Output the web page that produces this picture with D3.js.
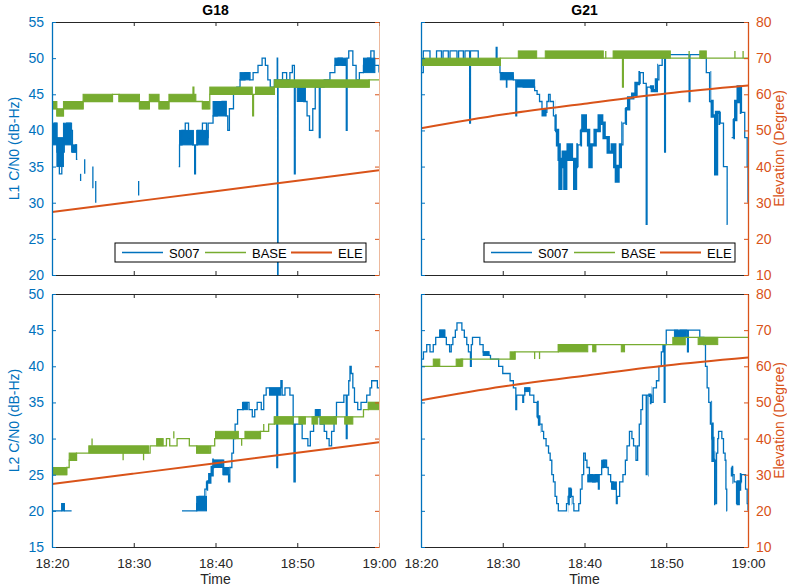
<!DOCTYPE html>
<html>
<head>
<meta charset="utf-8">
<script src="https://cdn.jsdelivr.net/npm/d3@7"></script>
<style>
  body { margin: 0; background: #fff; }
  text { font-family: "Liberation Sans", Arial, sans-serif; }
</style>
</head>
<body>
<svg id="chart" width="787" height="588"></svg>
<script>
// time is minutes after 18:20
const timeTicks = ["18:20", "18:30", "18:40", "18:50", "19:00"];
const l1Ticks = [20, 25, 30, 35, 40, 45, 50, 55];
const l2Ticks = [15, 20, 25, 30, 35, 40, 45, 50];
const eleTicks = [10, 20, 30, 40, 50, 60, 70, 80];
const seriesNames = ["S007", "BASE", "ELE"];
const titles = ["G18", "G21"];

const g18Elevation = [[0, 27.4], [10, 30.3], [20, 33.2], [30, 36.1], [40, 39.0]];
const g21Elevation = [[0, 50.6], [10, 54.4], [20, 57.4], [30, 60.2], [40, 62.4]];

// ---- G18 L1 ----
const g18L1S007 = [
  [0, 39], [0.3, 41], [0.6, 37], [0.9, 34], [1.2, 37], [1.5, 40], [1.8, 41], [2.3, 40], [2.5, 37], [2.9, 38], [3.0, 36], [3.1, 36], [3.15, null],
  [15.5, 35], [15.6, 38], [15.9, 40], [16.3, 41], [16.7, 39], [17.2, 38], [17.45, 34], [17.55, 38], [17.8, 40], [18.4, 41], [18.9, 39],
  [19.1, 41], [19.7, 42], [20.2, 43], [20.8, 44], [21.3, 42], [21.5, 40], [21.7, 43], [22.2, 45], [22.6, 46], [23, 47], [23.6, 48],
  [24.2, 47], [24.6, 48], [25.2, 49], [25.7, 50], [26.1, 49], [26.4, 47], [26.7, 46], [27.2, 47], [27.55, 50], [27.6, 20], [27.65, 47],
  [28.2, 48], [28.7, 47], [29.1, 48], [29.4, 49], [29.65, 34], [29.75, 46], [30.2, 45], [30.8, 44], [31.2, 42], [31.5, 40], [31.9, 43],
  [32.2, 46], [32.7, 39], [32.8, 46], [33.3, 47], [34, 48], [34.6, 49], [35, 50], [35.5, 49], [36, 40], [36.1, 50], [36.3, 51],
  [36.8, 49], [37.2, 47], [37.6, 48], [38.1, 49], [38.6, 50], [39, 51], [39.4, 49], [40, 48]
];
const g18L1S007Bands = [
  [0, 0.6, 38, 41], [0.6, 1.4, 35, 39], [1.4, 2.4, 38, 41], [2.4, 3.0, 37, 38], [15.6, 17.3, 38, 40], [17.7, 19.1, 38, 40],
  [19.7, 21.3, 42, 44], [23, 24.2, 47, 48], [28, 29, 46, 47], [30, 31, 44, 46], [34.6, 36, 49, 50], [38.1, 39.5, 48, 50]
];
const g18L1S007Dashes = [[3.5, 33, 34], [4.0, 34, 36], [5.0, 32, 35], [5.35, 30, 33], [10.6, 31, 33]];
const g18L1Base = [
  [0, 43], [0.6, 42], [1.4, 43], [3.8, 44], [7.4, 45], [8.2, 44], [10.7, 43], [11.9, 44], [13.1, 43], [14.3, 44],
  [17.25, 46], [17.35, 44], [18.4, 43], [19.3, 45], [24.55, 42], [24.65, 45], [27.2, 46], [38.8, 47], [40, 47]
];
const g18L1BaseBands = [
  [0, 0.6, 43, 44], [0.6, 1.4, 42, 43], [1.4, 3.8, 43, 44], [3.8, 7.4, 44, 45], [8.2, 10.7, 44, 45], [10.7, 11.9, 43, 44],
  [11.9, 13.1, 44, 45], [13.1, 14.3, 43, 44], [14.3, 17.6, 44, 45], [18.4, 19.2, 43, 44], [19.3, 24.5, 45, 46],
  [24.9, 27.1, 45, 46], [27.2, 38.8, 46, 47]
];

// ---- G21 L1 (read on the 10-80 scale) ----
const g21L1S007 = [
  [0, 66], [0.28, 72], [1.1, 69], [1.9, 72], [2.5, 69], [2.7, 72], [3.34, 69], [3.55, 72], [4.4, 69], [4.6, 72], [5.18, 69],
  [5.38, 72], [5.95, 52], [6.05, 72], [7.0, 69], [7.6, 68], [7.7, 69], [9.2, 73], [9.3, 69], [9.66, 66], [10.0, 65], [10.45, 62],
  [10.5, 65], [11.3, 64], [11.6, 54], [11.7, 63], [12.5, 62], [13.9, 61], [14.2, 60], [14.5, 58], [14.8, 56], [15.0, 55],
  [15.4, 58], [15.6, 60], [15.8, 58], [16.2, 54], [16.4, 50], [16.7, 46], [16.9, 42], [17.0, 34], [17.1, 40], [17.4, 44],
  [17.6, 34], [17.7, 42], [18.0, 46], [18.4, 42], [18.8, 34], [18.9, 40], [19.2, 46], [19.5, 50], [19.8, 54], [20.1, 50],
  [20.5, 46], [20.67, 40], [20.8, 46], [21.3, 50], [21.8, 54], [22.1, 52], [22.4, 48], [22.9, 44], [23.4, 46], [23.7, 40],
  [23.9, 36], [24.1, 40], [24.4, 46], [24.7, 52], [25.0, 56], [25.4, 59], [25.9, 60], [26.3, 63], [26.8, 66], [27.2, 63],
  [27.55, 24], [27.65, 62], [28.3, 61], [28.8, 64], [29.1, 68], [29.5, 70], [29.8, 44], [29.9, 71], [32.8, 58], [32.9, 71],
  [34.3, 70], [34.9, 66], [35.3, 58], [35.6, 54], [36.05, 38], [36.15, 55], [36.6, 52], [37.0, 40], [37.45, 24], [37.5, 24], [37.55, null],
  [38.0, 48], [38.2, 53], [38.5, 58], [38.8, 62], [39.2, 55], [39.6, 48], [39.9, 40], [40, 30]
];
const g21L1S007Bands = [[7.2, 9.2, 68, 69], [9.7, 11.3, 64, 66], [11.7, 13.9, 62, 64], [14.8, 15.3, 54, 56]];
const g21L1S007Thick = [[16.4, 19.2], [19.5, 24.6], [25, 26.8], [28, 29], [35.4, 36.6], [38.2, 39.2]];
const g21L1Base = [[0, 68], [9.7, 70], [24.65, 62], [24.75, 70], [40, 70]];
const g21L1BaseBands = [[0, 9.7, 68, 70], [11.9, 14.15, 70, 72], [15.2, 22.3, 70, 72], [23.5, 30.5, 70, 72], [34.1, 34.9, 70, 72]];
const g21L1BaseDashes = [[22.6, 70, 72], [32.8, 70, 72], [38.4, 70, 72], [39.4, 70, 72]];

// ---- G18 L2 ----
const g18L2S007 = [
  [0, 20], [1.2, 21], [1.5, 20], [2.4, 20], [2.45, null],
  [15.9, 20], [17.7, 21], [18.0, 22], [18.7, 23], [18.9, 24], [19.3, 25], [19.6, 26], [19.8, 27], [21.0, 25], [21.6, 24],
  [21.75, 26], [22.0, 28], [22.2, 30], [22.4, 32], [22.7, 34], [23.4, 35], [24.1, 34], [24.5, 33], [24.8, 34], [25.1, 35],
  [25.6, 34], [25.9, 36], [26.2, 37], [27.5, 26], [27.6, 37], [28.0, 38], [28.15, 36], [28.5, 37], [29.1, 36], [29.5, 32],
  [29.6, 24], [29.75, 32], [30.6, 30], [31.3, 29], [31.6, 31], [32.0, 33], [32.3, 34], [32.8, 32], [33.3, 31], [33.6, 30],
  [33.9, 29], [34.2, 31], [34.5, 33], [34.8, 35], [35.7, 36], [36.0, 30], [36.1, 36], [36.3, 38], [36.45, 40], [36.6, 39],
  [36.8, 37], [37.0, 35], [37.4, 34], [37.8, 35], [38.5, 36], [38.9, 37], [39.1, 38], [39.8, 37], [40, 37]
];
const g18L2S007Bands = [
  [1.2, 1.5, 20, 21], [17.7, 18.9, 20, 22], [19.8, 20.9, 26, 27], [20.9, 21.6, 25, 26], [23.3, 23.9, 34, 35],
  [26.6, 28, 36, 37], [32.2, 32.7, 33, 34]
];
const g18L2Base = [
  [0, 25], [1.8, 26], [2.1, 27], [3.0, 28], [11.8, 28], [12.0, 29], [14.0, 30], [14.4, 29], [15.3, 30], [16.8, 29],
  [17.7, 28], [19.4, 29], [19.9, 30], [25.5, 31], [26.5, 32], [27.2, 33], [38.1, 34], [38.7, 35], [40, 35]
];
const g18L2BaseBands = [
  [0, 1.8, 25, 26], [2.1, 3.0, 27, 28], [4.5, 11.8, 28, 29], [12.8, 13.6, 29, 30], [17.7, 19.3, 28, 29], [20.0, 22.8, 30, 31],
  [23.6, 25.5, 30, 31], [27.2, 29.5, 32, 33], [30.2, 31, 32, 33], [31.8, 32.5, 32, 33], [32.8, 34.8, 32, 33],
  [35.8, 36.8, 32, 33], [38.7, 40, 34, 35]
];
const g18L2BaseDashes = [[4.9, 29, 30], [8.7, 27, 28], [11.2, 27, 28], [14.9, 30, 31], [23.2, 29, 30], [25.9, 31, 32]];

// ---- G21 L2 (read on the 10-80 scale) ----
const g21L2S007 = [
  [0, 62], [0.3, 64], [0.7, 66], [1.1, 64], [1.5, 66], [1.8, 68], [2.3, 70], [2.9, 68], [3.1, 66], [3.5, 64], [3.7, 66],
  [3.9, 68], [4.2, 70], [4.4, 72], [5.0, 70], [5.3, 68], [5.6, 66], [5.8, 64], [6.05, 60], [6.15, 66], [6.3, 68], [7.2, 66],
  [7.6, 64], [8.3, 63], [8.5, 62], [9.5, 60], [10.0, 58], [10.9, 56], [11.3, 54], [11.6, 48], [11.7, 52], [12.45, 50],
  [12.55, 52], [12.7, 54], [13.3, 52], [13.8, 50], [14.2, 46], [14.5, 44], [14.8, 42], [15.0, 40], [15.3, 38], [15.6, 36],
  [15.8, 34], [16.0, 30], [16.2, 28], [16.4, 24], [16.6, 22], [16.8, 20], [17.8, 22], [18.0, 24], [18.2, 26], [18.4, 24],
  [18.6, 22], [18.7, 20], [19.3, 22], [19.5, 26], [19.7, 30], [19.9, 36], [20.1, 34], [20.3, 32], [20.6, 30], [21.0, 28],
  [21.3, 30], [21.7, 26], [21.8, 30], [22.1, 32], [22.3, 34], [22.7, 32], [22.9, 30], [23.2, 28], [23.5, 26], [23.9, 22],
  [24.0, 24], [24.3, 28], [24.7, 30], [25.0, 34], [25.2, 38], [25.5, 42], [25.8, 40], [26.0, 38], [26.3, 34], [26.5, 38],
  [26.7, 44], [26.9, 48], [27.1, 52], [27.55, 30], [27.65, 52], [28.2, 50], [28.4, 54], [28.8, 56], [29.1, 60], [29.4, 64],
  [29.6, 66], [29.75, 50], [29.85, 66], [30.0, 70], [31.4, 68], [31.7, 70], [32.6, 64], [32.7, 70], [34.1, 68], [34.6, 66],
  [34.8, 60], [35.0, 54], [35.2, 50], [35.4, 44], [35.6, 40], [35.7, 34], [36.05, 22], [36.15, 36], [36.3, 40], [36.4, 42],
  [36.8, 40], [37.0, 36], [37.2, 34], [37.3, 26], [37.4, 20], [37.45, 20], [37.5, null],
  [38.0, 32], [38.1, 30], [38.3, 28], [38.6, 22], [38.8, 26], [39.0, 28], [39.2, 30], [39.5, 30], [39.7, 26], [39.9, 22], [40, 20]
];
const g21L2S007Bands = [[2.3, 2.9, 68, 70], [7.6, 8.3, 63, 64], [12.7, 13.3, 53, 54], [20.4, 21.7, 28, 30], [22.1, 22.6, 32, 34], [23.3, 23.9, 26, 28], [31, 32.5, 68, 70]];
const g21L2S007Thick = [[14.2, 14.6], [18, 18.4], [27.8, 28.2], [35.5, 36], [37.8, 38.2], [38.6, 39.2]];
const g21L2Base = [[0, 60], [4.9, 62], [11.5, 64], [16.8, 66], [32.3, 68], [40, 68]];
const g21L2BaseBands = [
  [1.5, 2.3, 60, 62], [4.3, 5.1, 60, 62], [10.9, 11.5, 62, 64], [16.8, 20.4, 64, 66], [21.0, 21.4, 64, 66],
  [24.5, 24.9, 64, 66], [30.8, 32.3, 66, 68], [33.9, 36.3, 66, 68]
];
const g21L2BaseDashes = [[13.9, 62, 64], [14.5, 62, 64]];

const blue = "#0072BD", green = "#77AC30", orange = "#D95319", axisGray = "#262626";
const W = 327, H = 253;
const startTime = new Date(2020, 0, 1, 18, 20);
const toTime = m => new Date(startTime.getTime() + m * 60000);
const parseTick = d3.timeParse("%H:%M");
const tickDates = timeTicks.map(s => { const d = parseTick(s); return new Date(2020, 0, 1, d.getHours(), d.getMinutes()); });

const panels = [
  { left: 52, top: 22, col: 0, row: 0, ticks: l1Ticks, s007: g18L1S007, s007Bands: g18L1S007Bands, s007Thick: [], s007Dashes: g18L1S007Dashes,
    base: g18L1Base, baseBands: g18L1BaseBands, baseDashes: [], ele: g18Elevation, yLabel: "L1 C/N0 (dB-Hz)" },
  { left: 421, top: 22, col: 1, row: 0, ticks: eleTicks, s007: g21L1S007, s007Bands: g21L1S007Bands, s007Thick: g21L1S007Thick, s007Dashes: [],
    base: g21L1Base, baseBands: g21L1BaseBands, baseDashes: g21L1BaseDashes, ele: g21Elevation },
  { left: 52, top: 294, col: 0, row: 1, ticks: l2Ticks, s007: g18L2S007, s007Bands: g18L2S007Bands, s007Thick: [[18.9, 19.8]], s007Dashes: [],
    base: g18L2Base, baseBands: g18L2BaseBands, baseDashes: g18L2BaseDashes, ele: g18Elevation, yLabel: "L2 C/N0 (dB-Hz)" },
  { left: 421, top: 294, col: 1, row: 1, ticks: eleTicks, s007: g21L2S007, s007Bands: g21L2S007Bands, s007Thick: g21L2S007Thick, s007Dashes: [],
    base: g21L2Base, baseBands: g21L2BaseBands, baseDashes: g21L2BaseDashes, ele: g21Elevation }
];

const svg = d3.select("#chart");

function drawPanel(p, i) {
  const g = svg.append("g").attr("transform", `translate(${p.left},${p.top})`);
  const x = d3.scaleTime().domain([toTime(0), toTime(40)]).range([0, W]);
  const yC = d3.scaleLinear().domain(d3.extent(p.ticks)).range([H, 0]);
  const yE = d3.scaleLinear().domain(d3.extent(eleTicks)).range([H, 0]);
  const xm = m => x(toTime(m));

  g.append("clipPath").attr("id", "clip" + i)
    .append("rect").attr("width", W).attr("height", H);
  const plot = g.append("g").attr("clip-path", `url(#clip${i})`);

  const stepLine = d3.line()
    .defined(d => d[1] !== null)
    .x(d => xm(d[0]))
    .y(d => yC(d[1]))
    .curve(d3.curveStepAfter);

  function drawBands(data, color) {
    plot.append("g").selectAll("rect").data(data).join("rect")
      .attr("x", d => xm(d[0]))
      .attr("width", d => xm(d[1]) - xm(d[0]))
      .attr("y", d => yC(d[3]))
      .attr("height", d => yC(d[2]) - yC(d[3]))
      .attr("fill", color)
      .attr("stroke", color)
      .attr("stroke-width", 1);
  }
  function drawDashes(data, color) {
    plot.append("g").selectAll("line").data(data).join("line")
      .attr("x1", d => xm(d[0])).attr("x2", d => xm(d[0]))
      .attr("y1", d => yC(d[1])).attr("y2", d => yC(d[2]))
      .attr("stroke", color).attr("stroke-width", 1.3);
  }

  // S007
  drawBands(p.s007Bands, blue);
  plot.append("path").datum(p.s007)
    .attr("fill", "none").attr("stroke", blue).attr("stroke-width", 1.3)
    .attr("d", stepLine);
  if (p.s007Thick.length) {
    const thickClip = g.append("clipPath").attr("id", "thick" + i);
    thickClip.selectAll("rect").data(p.s007Thick).join("rect")
      .attr("x", d => xm(d[0])).attr("width", d => xm(d[1]) - xm(d[0]))
      .attr("y", 0).attr("height", H);
    plot.append("g").attr("clip-path", `url(#thick${i})`)
      .append("path").datum(p.s007)
      .attr("fill", "none").attr("stroke", blue).attr("stroke-width", 3.4)
      .attr("d", stepLine);
  }
  drawDashes(p.s007Dashes, blue);

  // BASE
  drawBands(p.baseBands, green);
  plot.append("path").datum(p.base)
    .attr("fill", "none").attr("stroke", green).attr("stroke-width", 1.3)
    .attr("d", stepLine);
  drawDashes(p.baseDashes, green);

  // ELE
  plot.append("path").datum(p.ele)
    .attr("fill", "none").attr("stroke", orange).attr("stroke-width", 2)
    .attr("d", d3.line().x(d => xm(d[0])).y(d => yE(d[1])).curve(d3.curveMonotoneX));

  // axes
  const styleAxis = (sel, color, width, size) => {
    sel.select(".domain").attr("stroke", color).attr("stroke-width", width);
    sel.selectAll(".tick line").attr("stroke", color);
    sel.selectAll(".tick text").attr("fill", color).style("font-size", (size || 14) + "px")
      .style("font-family", "'Liberation Sans', Arial, sans-serif");
  };

  const top = g.append("g")
    .call(d3.axisTop(x).tickValues(tickDates).tickSize(-4).tickSizeOuter(0).tickFormat(""));
  styleAxis(top, axisGray, 1);

  const bottom = g.append("g").attr("transform", `translate(0,${H})`)
    .call(d3.axisBottom(x).tickValues(tickDates).tickSize(-4).tickSizeOuter(0)
      .tickPadding(11)
      .tickFormat(p.row === 1 ? d3.timeFormat("%H:%M") : ""));
  styleAxis(bottom, axisGray, 1, 13.5);

  const leftAxis = g.append("g")
    .call(d3.axisLeft(yC).tickValues(p.ticks).tickSize(-4).tickSizeOuter(0).tickPadding(8)
      .tickFormat(p.col === 0 ? d3.format("d") : ""));
  styleAxis(leftAxis, blue, 1.3);

  const rightAxis = g.append("g").attr("transform", `translate(${W},0)`)
    .call(d3.axisRight(yC).tickValues(p.ticks).tickSize(-4).tickSizeOuter(0).tickPadding(8)
      .tickFormat(p.col === 1 ? d3.format("d") : ""));
  styleAxis(rightAxis, orange, p.col === 1 ? 1.3 : 0.8);
  if (p.col === 0) rightAxis.select(".domain").attr("stroke", "#e9a784");

  if (p.row === 0) {
    g.append("text")
      .attr("x", W / 2).attr("y", -7)
      .attr("text-anchor", "middle")
      .style("font-size", "14px").style("font-weight", "bold")
      .attr("fill", "#000")
      .text(titles[p.col]);

    // legend
    const lg = g.append("g").attr("transform", `translate(${63},${221})`);
    lg.append("rect").attr("width", 251).attr("height", 19)
      .attr("fill", "#fff").attr("stroke", "#000").attr("stroke-width", 1);
    const colors = [blue, green, orange];
    const itemX = [7, 90, 176];
    seriesNames.forEach((name, k) => {
      lg.append("line")
        .attr("x1", itemX[k]).attr("x2", itemX[k] + 41)
        .attr("y1", 9.5).attr("y2", 9.5)
        .attr("stroke", colors[k]).attr("stroke-width", k === 2 ? 2 : 1.3);
      lg.append("text")
        .attr("x", itemX[k] + 47).attr("y", 14.5)
        .style("font-size", "13px").attr("fill", "#000")
        .text(name);
    });
  } else {
    g.append("text")
      .attr("x", W / 2).attr("y", H + 37)
      .attr("text-anchor", "middle")
      .style("font-size", "14px").attr("fill", axisGray)
      .text("Time");
  }

  if (p.col === 0) {
    g.append("text")
      .attr("transform", `translate(${-33},${H / 2}) rotate(-90)`)
      .attr("text-anchor", "middle")
      .style("font-size", "14px").attr("fill", blue)
      .text(p.yLabel);
  } else {
    g.append("text")
      .attr("transform", `translate(${W + 36},${H / 2}) rotate(-90)`)
      .attr("text-anchor", "middle")
      .style("font-size", "14px").attr("fill", orange)
      .text("Elevation (Degree)");
  }
}

panels.forEach(drawPanel);
</script>
</body>
</html>
